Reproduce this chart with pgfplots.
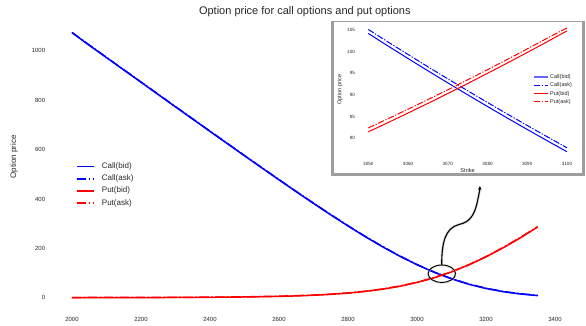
\documentclass[border=0pt]{standalone}
\usepackage{fontspec}
\setmainfont{Liberation Sans}
\usepackage{pgfplots}
\usepackage{pgfplotstable}
\pgfplotsset{compat=1.18}
\usetikzlibrary{arrows.meta}

% strike, call bid, call ask, put bid, put ask (full strike range)
\pgfplotstableread{
K    cb      ca      pb     pa
2000 1073.9  1074.9  1.1    1.6
2050 1022.9  1023.9  1.1    1.7
2100 972.9   973.9   1.2    1.7
2150 923.1   924.1   1.3    1.8
2200 873.2   874.2   1.4    1.9
2250 823.4   824.4   1.6    2.1
2300 773.5   774.5   1.8    2.3
2350 723.9   724.9   2.1    2.6
2400 674.3   675.3   2.5    3.0
2450 624.9   625.9   3.1    3.6
2500 575.6   576.6   3.8    4.3
2550 526.7   527.7   4.9    5.5
2600 478.1   479.1   6.2    6.9
2650 430.0   431.0   8.1    8.9
2700 382.7   383.7   10.8   11.6
2750 336.4   337.4   14.4   15.3
2800 291.4   292.4   19.4   20.3
2850 248.1   249.1   26.2   27.1
2900 207.2   208.2   35.2   36.1
2950 169.0   170.0   47.1   48.0
3000 134.3   135.3   62.4   63.3
3050 103.6   104.6   81.6   82.5
3100 77.2    78.2    105.2  106.1
3150 55.4    56.4    133.4  134.4
3200 38.2    39.2    166.1  167.2
3250 25.1    26.1    203.0  204.2
3300 15.8    16.8    243.6  244.9
3350 9.4     10.4    287.2  288.5
}\fulltable

% strikes around the crossing
\pgfplotstableread{
K    cb      ca      pb      pa
3050 104.20  105.13  81.50   82.40
3055 101.29  102.22  83.65   84.54
3060 98.42   99.35   85.84   86.72
3065 95.59   96.52   88.07   88.94
3070 92.80   93.73   90.34   91.20
3075 90.05   90.98   92.65   93.50
3080 87.34   88.27   95.00   95.84
3085 84.67   85.60   97.39   98.22
3090 82.04   82.96   99.82   100.64
3095 79.45   80.37   102.29  103.10
3100 76.90   77.82   104.80  105.50
}\zoomtable

\definecolor{txt}{RGB}{38,38,38}
\definecolor{cblue}{RGB}{0,0,255}
\definecolor{cred}{RGB}{255,0,0}

\tikzset{
  dd/.style={dash pattern=on 9.6pt off 2.4pt on 1.5pt off 2.4pt},
  ddsmall/.style={dash pattern=on 6.4pt off 1.6pt on 1.2pt off 1.6pt},
  keytext/.style={anchor=west, inner sep=0pt, text=txt},
}

\begin{document}
\begin{tikzpicture}[x=1pt,y=1pt]

\begin{axis}[
  at={(48.7pt,14pt)}, anchor=south west,
  scale only axis, width=512.3pt, height=292.2pt,
  xmin=1932.5, xmax=3417.5, ymin=-53, ymax=1130,
  axis line style={draw=none}, major tick length=0pt,
  xtick={2000,2200,...,3400}, ytick={0,200,...,1000},
  tick label style={font=\fontsize{6}{7}\selectfont, text=txt},
  xticklabel style={yshift=-2.5pt},
  /pgf/number format/1000 sep={}, /pgf/number format/assume math mode=true,
  title={Option price for call options and put options},
  every axis title/.style={at={(axis description cs:0.5,1.024)}, anchor=center,
    font=\fontsize{11}{13}\selectfont, text=txt},
  xlabel={Strike}, ylabel={Option price},
  label style={font=\fontsize{8}{9.5}\selectfont, text=txt},
  xlabel style={at={(axis description cs:0.5,-0.05)}, anchor=north},
  ylabel style={at={(axis description cs:-0.0675,0.527)}, anchor=center},
  clip=false,
]
\addplot[cblue, line width=1.5pt] table[x=K,y=cb] {\fulltable};
\addplot[cblue, line width=1.5pt, dd] table[x=K,y=ca] {\fulltable};
\addplot[cred, line width=1.5pt] table[x=K,y=pb] {\fulltable};
\addplot[cred, line width=1.5pt, dd] table[x=K,y=pa] {\fulltable};

% key
\begin{scope}[font=\fontsize{8}{9.5}\selectfont]
\draw[draw=cblue, line width=1.7pt] (axis description cs:0.0547,0.4945) -- ++(17pt,0pt);
\node[keytext] at (axis description cs:0.1035,0.4945) {Call(bid)};
\draw[draw=cblue, line width=1.7pt, dd] (axis description cs:0.0547,0.4528) -- ++(17pt,0pt);
\node[keytext] at (axis description cs:0.1035,0.4528) {Call(ask)};
\draw[draw=cred, line width=1.7pt] (axis description cs:0.0547,0.4110) -- ++(17pt,0pt);
\node[keytext] at (axis description cs:0.1035,0.4110) {Put(bid)};
\draw[draw=cred, line width=1.7pt, dd] (axis description cs:0.0547,0.3693) -- ++(17pt,0pt);
\node[keytext] at (axis description cs:0.1035,0.3693) {Put(ask)};
\end{scope}

% circle around the crossing
\draw[black!25, line width=2pt, opacity=0.6] (axis cs:3072,97) ellipse [x radius=13.7pt, y radius=8.7pt];
\draw[black, line width=0.9pt] (axis cs:3072,98) ellipse [x radius=13.7pt, y radius=8.7pt];
\end{axis}

% pointer from the circle to the enlarged view
\draw[black!30, line width=2.6pt, opacity=0.5]
  (441.7,60) .. controls (441.7,82) and (445,97) .. (459,100.5)
  .. controls (471,103) and (475,112) .. (477.5,124)
  .. controls (478.8,130) and (479.6,133) .. (479.9,136);
\draw[black, line width=1.1pt, -{Stealth[length=4pt,width=3.4pt]}]
  (441.7,60) .. controls (441.7,82) and (445,97) .. (459,100.5)
  .. controls (471,103) and (475,112) .. (477.5,124)
  .. controls (478.8,130) and (479.6,134) .. (480,139);

% framed panel for the enlarged view
\fill[black!38] (331,149) rectangle (585,304);
\fill[white] (333.5,152) rectangle (582,303.2);

\begin{axis}[
  at={(358.4pt,167.2pt)}, anchor=south west,
  scale only axis, width=218.5pt, height=136pt,
  xmin=3047.5, xmax=3102.5, ymin=75.5, ymax=106.9,
  axis line style={draw=none}, major tick length=0pt,
  xtick={3050,3060,...,3100}, ytick={80,85,...,105},
  tick label style={font=\fontsize{4.6}{5.5}\selectfont, text=txt},
  xticklabel style={yshift=-1.2pt},
  /pgf/number format/1000 sep={}, /pgf/number format/assume math mode=true,
  xlabel={Strike}, ylabel={Option price},
  label style={font=\fontsize{5.6}{6.5}\selectfont, text=txt},
  xlabel style={at={(axis description cs:0.5,-0.096)}, anchor=center},
  ylabel style={at={(axis description cs:-0.084,0.5)}, anchor=center},
  clip=false,
]
\addplot[cblue, line width=1pt] table[x=K,y=cb] {\zoomtable};
\addplot[cblue, line width=1pt, ddsmall] table[x=K,y=ca] {\zoomtable};
\addplot[cred, line width=1pt] table[x=K,y=pb] {\zoomtable};
\addplot[cred, line width=1pt, ddsmall] table[x=K,y=pa] {\zoomtable};

% key
\begin{scope}[font=\fontsize{5.5}{6.5}\selectfont]
\draw[draw=cblue!60, line width=1.8pt] (axis description cs:0.8037,0.5963) -- ++(13.7pt,0pt);
\node[keytext] at (axis description cs:0.877,0.5963) {Call(bid)};
\draw[draw=cblue, line width=1.2pt, ddsmall] (axis description cs:0.8037,0.5331) -- ++(13.7pt,0pt);
\node[keytext] at (axis description cs:0.877,0.5331) {Call(ask)};
\draw[draw=cred, line width=1.2pt] (axis description cs:0.8037,0.4713) -- ++(13.7pt,0pt);
\node[keytext] at (axis description cs:0.877,0.4713) {Put(bid)};
\draw[draw=cred, line width=1.2pt, ddsmall] (axis description cs:0.8037,0.4125) -- ++(13.7pt,0pt);
\node[keytext] at (axis description cs:0.877,0.4125) {Put(ask)};
\end{scope}
\end{axis}

\pgfresetboundingbox
\useasboundingbox (0,0) rectangle (586,325);
\end{tikzpicture}
\end{document}
